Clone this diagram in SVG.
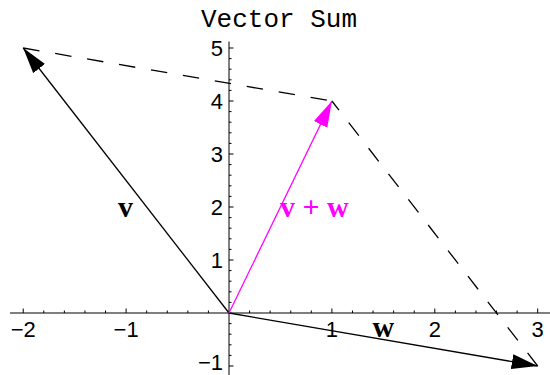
<svg xmlns="http://www.w3.org/2000/svg" width="550" height="375" viewBox="0 0 550 375">
<style>
.tick{font-family:"Liberation Sans",Arial,sans-serif;font-size:22px;fill:#000}
.lab{font-family:"Liberation Serif","Times New Roman",serif;font-size:30px;font-weight:bold}
.title{font-family:"Liberation Mono","Courier New",monospace;font-size:26px;fill:#000}
.vec{stroke:#000;stroke-width:1.3;fill:none}
.dash{stroke:#000;stroke-width:1.3;fill:none;stroke-dasharray:16.5 15.9}
</style>
<defs>
<marker id="ah" markerUnits="userSpaceOnUse" orient="auto" viewBox="0 -8 27 16" refX="26" refY="0" markerWidth="27" markerHeight="16">
<path d="M0,-7.5 L26,0 L0,7.5 Z" fill="#000"/>
</marker>
<marker id="ahm" markerUnits="userSpaceOnUse" orient="auto" viewBox="0 -8 27 16" refX="26" refY="0" markerWidth="27" markerHeight="16">
<path d="M0,-7.5 L26,0 L0,7.5 Z" fill="#ff00ff"/>
</marker>
</defs>
<rect width="550" height="375" fill="#fff"/>
<text class="title" x="279" y="27" text-anchor="middle">Vector Sum</text>
<g id="axes">
<line x1="10" y1="313" x2="550" y2="313" stroke="#000" stroke-width="1.2"/>
<line x1="229" y1="41.5" x2="229" y2="375" stroke="#555" stroke-width="1.5"/>
<path stroke="#000" stroke-width="1" fill="none" d="M23.2,313v-4.5M43.78,313v-2.5M64.36,313v-2.5M84.94,313v-2.5M105.52,313v-2.5M126.1,313v-4.5M146.68,313v-2.5M167.26,313v-2.5M187.84,313v-2.5M208.42,313v-2.5M249.58,313v-2.5M270.16,313v-2.5M290.74,313v-2.5M311.32,313v-2.5M331.9,313v-4.5M352.48,313v-2.5M373.06,313v-2.5M393.64,313v-2.5M414.22,313v-2.5M434.8,313v-4.5M455.38,313v-2.5M475.96,313v-2.5M496.54,313v-2.5M517.12,313v-2.5M537.7,313v-4.5"/>
<path stroke="#000" stroke-width="1" fill="none" d="M229,366h4.5M229,355.4h2.5M229,344.8h2.5M229,334.2h2.5M229,323.6h2.5M229,302.4h2.5M229,291.8h2.5M229,281.2h2.5M229,270.6h2.5M229,260h4.5M229,249.4h2.5M229,238.8h2.5M229,228.2h2.5M229,217.6h2.5M229,207h4.5M229,196.4h2.5M229,185.8h2.5M229,175.2h2.5M229,164.6h2.5M229,154h4.5M229,143.4h2.5M229,132.8h2.5M229,122.2h2.5M229,111.6h2.5M229,101h4.5M229,90.4h2.5M229,79.8h2.5M229,69.2h2.5M229,58.6h2.5M229,48h4.5"/>
<g class="tick" text-anchor="middle">
<text x="23.2" y="337">−2</text>
<text x="126.1" y="337">−1</text>
<text x="331.9" y="337">1</text>
<text x="434.8" y="337">2</text>
<text x="537.7" y="337">3</text>
</g>
<g class="tick" text-anchor="end">
<text x="223" y="370">−1</text>
<text x="223" y="268">1</text>
<text x="223" y="215">2</text>
<text x="223" y="162">3</text>
<text x="223" y="109">4</text>
<text x="223" y="56">5</text>
</g>
</g>
<g id="connectors">
<line class="dash" x1="23.2" y1="48" x2="331.9" y2="101"/>
<line class="dash" x1="537.7" y1="366" x2="331.9" y2="101"/>
<line id="vec-v" class="vec" x1="229" y1="313" x2="23.2" y2="48" marker-end="url(#ah)"/>
<line id="vec-w" class="vec" x1="229" y1="313" x2="537.7" y2="366" marker-end="url(#ah)"/>
<line id="vec-vw" class="vec" style="stroke:#ff00ff" x1="229" y1="313" x2="331.9" y2="101" marker-end="url(#ahm)"/>
</g>
<g id="label-v"><text class="lab" x="118" y="217">v</text></g>
<g id="label-w"><text class="lab" x="372.5" y="337">w</text></g>
<g id="label-vw"><text class="lab" x="280" y="217" style="fill:#ff00ff">v + w</text></g>
</svg>
